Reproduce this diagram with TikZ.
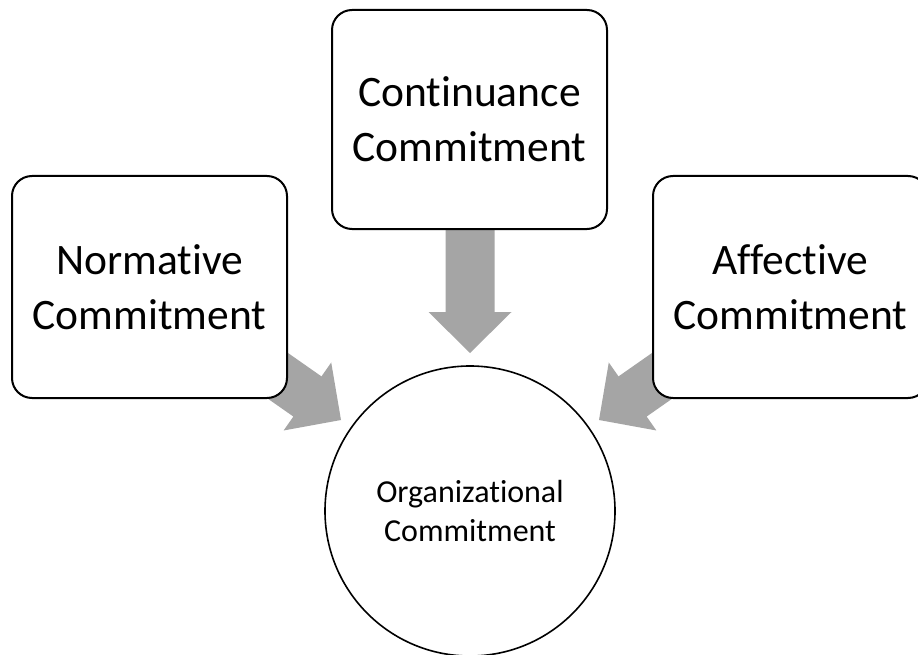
\documentclass[tikz,border=0pt]{standalone}
\usepackage{fontspec}
\setmainfont{Carlito}[Ligatures=NoCommon]
\definecolor{arrowgray}{HTML}{A5A5A5}
\tikzset{
  box/.style={draw=black, line width=2pt, fill=white, rounded corners=20pt,
    minimum width=275pt, inner sep=0pt, align=center,
    font=\fontsize{43.5}{55}\selectfont},
  orgcircle/.style={draw=black, line width=1.6pt, fill=white, circle,
    minimum size=290pt, inner sep=0pt, align=center,
    font=\fontsize{32}{39}\selectfont},
  blockarrow/.style={fill=arrowgray, draw=none}
}
\newcommand{\blockarrowpath}[1]{% tip at origin, pointing along +x, total length #1
  (-#1,-24.5) -- (-41,-24.5) -- (-41,-41.5) -- (0,0) -- (-41,41.5) -- (-41,24.5) -- (-#1,24.5) -- cycle}
\begin{document}
\begin{tikzpicture}[x=1pt, y=-1pt]
\clip (0,0) rectangle (918,655);
\fill[white] (0,0) rectangle (918,655);
% arrow tips
\coordinate (tipL) at (341,420);
\coordinate (tipT) at (470,353);
\coordinate (tipR) at (599,420);
% block arrows (drawn first, boxes cover their tails)
\fill[blockarrow, shift={(tipL)}, rotate=-35] \blockarrowpath{124};
\fill[blockarrow, shift={(tipT)}, rotate=-90] \blockarrowpath{134};
\fill[blockarrow, shift={(tipR)}, rotate=-145] \blockarrowpath{124};
% boxes
\node[box, minimum height=222pt] (norm) at (149.5,287) {Normative\\Commitment};
\node[box, minimum height=219pt] (cont) at (469.5,119.5) {Continuance\\Commitment};
\node[box, minimum height=222pt] (aff) at (790.5,287) {Affective\\Commitment};
% circle
\node[orgcircle] (org) at (470,511) {Organizational\\Commitment};
\end{tikzpicture}
\end{document}
